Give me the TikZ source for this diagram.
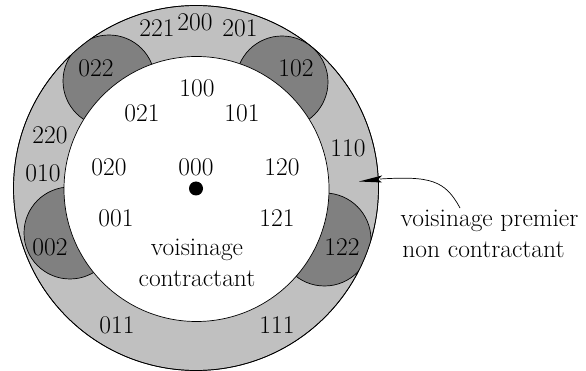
\documentclass[tikz,border=0pt]{standalone}
\begin{document}
\begin{tikzpicture}[x=1pt,y=-1pt,
  lbl/.style={font=\fontsize{25.5}{31}\selectfont, inner sep=0pt, anchor=center},
  ringdisk/.style={fill=ringgray, draw=black, line width=0.7pt},
  capdisk/.style={fill=capgray, draw=black, line width=0.7pt},
  coredisk/.style={fill=white, draw=black, line width=0.7pt}]
\definecolor{ringgray}{HTML}{C0C0C0}
\definecolor{capgray}{HTML}{808080}
\useasboundingbox (0,0) rectangle (586,371);
\coordinate (c) at (196,188);
\path[ringdisk] (c) circle[radius=182.5];
\begin{scope}
  \clip (c) circle[radius=182.5];
  \path[capdisk] (109,81) circle[radius=46];
  \path[capdisk] (282,82) circle[radius=46];
  \path[capdisk] (70,233) circle[radius=46];
  \path[capdisk] (324.5,239.5) circle[radius=46.5];
\end{scope}
\path[draw=black, line width=0.7pt] (c) circle[radius=182.5];
\path[coredisk] (196.5,189) circle[radius=132.5];
\fill (196,188.5) circle[radius=7];
% ring labels
\node[lbl] (n221) at (157,28) {221};
\node[lbl] (n200) at (195,22) {200};
\node[lbl] (n201) at (240,28) {201};
\node[lbl] (n022) at (96,68) {022};
\node[lbl] (n102) at (296,68) {102};
\node[lbl] (n220) at (50,135) {220};
\node[lbl] (n110) at (348,148) {110};
\node[lbl] (n010) at (43,173) {010};
\node[lbl] (n002) at (50,247) {002};
\node[lbl] (n122) at (342,247) {122};
\node[lbl] (n011) at (117,325) {011};
\node[lbl] (n111) at (277,325) {111};
% inner labels
\node[lbl] (n100) at (197,88) {100};
\node[lbl] (n021) at (142,113) {021};
\node[lbl] (n101) at (242,113) {101};
\node[lbl] (n020) at (109,167) {020};
\node[lbl] (n000) at (196,167) {000};
\node[lbl] (n120) at (282,167) {120};
\node[lbl] (n001) at (116,218) {001};
\node[lbl] (n121) at (277,218) {121};
\node[lbl, align=center] (vc) at (197,263) {voisinage\\contractant};
% right label
\node[lbl, anchor=base] (lab1) at (489.5,227) {voisinage premier};
\node[lbl, anchor=base] (lab2) at (483.5,258) {non contractant};
\coordinate (tip) at (359,181.5);
\coordinate (start) at (460,208);
\draw[line width=0.7pt] (start) .. controls (445,180) and (430,176) .. (380,179);
\fill (tip) -- (382,175.5) -- (378,179.5) -- (382,182.5) -- cycle;
\end{tikzpicture}
\end{document}
